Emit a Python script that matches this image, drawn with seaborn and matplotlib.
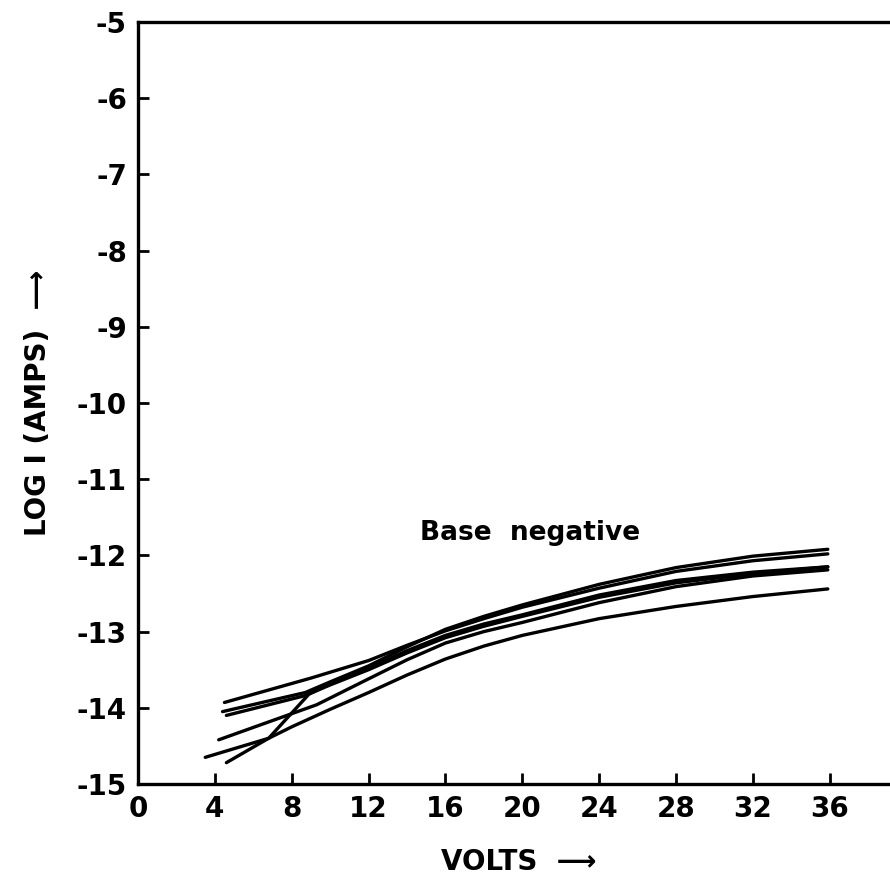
import matplotlib
matplotlib.use("Agg")
import pandas as pd
import seaborn as sns
from matplotlib import pyplot as plt

# curves (volts, log10 of current)
curve_a_x = [4.5, 9.0, 12, 14, 16, 18, 20, 24, 28, 32, 35.9]
curve_a_y = [-13.93, -13.61, -13.38, -13.18, -12.99, -12.83, -12.68, -12.43, -12.21, -12.07, -11.98]

curve_b1_x = [4.4, 8.7, 10, 12, 14, 16, 18, 20, 24, 28, 32, 35.9]
curve_b1_y = [-14.05, -13.80, -13.66, -13.45, -13.20, -12.97, -12.80, -12.65, -12.38, -12.16, -12.01, -11.92]

curve_b2_x = [4.6, 8.7, 10, 12, 14, 16, 18, 20, 24, 28, 32, 35.9]
curve_b2_y = [-14.10, -13.84, -13.70, -13.50, -13.28, -13.08, -12.93, -12.80, -12.55, -12.36, -12.24, -12.15]

curve_c_x = [4.2, 9.3, 12, 14, 16, 18, 20, 24, 28, 32, 35.9]
curve_c_y = [-14.42, -13.96, -13.62, -13.37, -13.15, -13.00, -12.88, -12.62, -12.41, -12.27, -12.19]

curve_d_x = [3.5, 6.8, 8, 10, 12, 14, 16, 18, 20, 24, 28, 32, 35.9]
curve_d_y = [-14.65, -14.40, -14.25, -14.02, -13.80, -13.57, -13.36, -13.19, -13.05, -12.83, -12.67, -12.54, -12.44]

curve_e_x = [4.6, 6.8, 8.9, 10, 12, 14, 16, 18, 20, 24, 28, 32, 35.9]
curve_e_y = [-14.72, -14.40, -13.82, -13.68, -13.48, -13.25, -13.05, -12.90, -12.78, -12.52, -12.33, -12.22, -12.15]

x_ticks = [0, 4, 8, 12, 16, 20, 24, 28, 32, 36]
y_ticks = [-15, -14, -13, -12, -11, -10, -9, -8, -7, -6, -5]

curves = {
    "a": (curve_a_x, curve_a_y),
    "b1": (curve_b1_x, curve_b1_y),
    "b2": (curve_b2_x, curve_b2_y),
    "c": (curve_c_x, curve_c_y),
    "d": (curve_d_x, curve_d_y),
    "e": (curve_e_x, curve_e_y),
}
df = pd.concat(
    [pd.DataFrame({"volts": xs, "log_i": ys, "curve": name}) for name, (xs, ys) in curves.items()],
    ignore_index=True,
)

sns.set_style("ticks")
plt.rcParams["font.family"] = ["DejaVu Sans"]
plt.rcParams["axes.unicode_minus"] = False
plt.rcParams["text.color"] = "black"
plt.rcParams["axes.labelcolor"] = "black"

fig = plt.figure(figsize=(8.9, 8.89), dpi=100)
ax = fig.add_axes([138 / 890, 1 - 784 / 889, 1 - 138 / 890 + 0.01, (784 - 22) / 889])

sns.lineplot(data=df, x="volts", y="log_i", units="curve", estimator=None,
             color="black", lw=2.4, sort=False, ax=ax, legend=False)

ax.set_xlim(0, 39.6)
ax.set_ylim(-15, -5)
ax.set_xticks(x_ticks)
ax.set_yticks(y_ticks)
ax.set_xticklabels([str(t) for t in x_ticks], fontsize=20, fontweight="bold")
ax.set_yticklabels([str(t) for t in y_ticks], fontsize=20, fontweight="bold")
ax.tick_params(direction="in", length=8, width=2, pad=8, colors="black")

for side in ["left", "bottom", "top"]:
    ax.spines[side].set_linewidth(2.4)
    ax.spines[side].set_color("black")
ax.spines["right"].set_visible(False)

ax.set_xlabel("VOLTS  \u27f6", fontsize=20, fontweight="bold", labelpad=18, color="black")
ax.set_ylabel("LOG I (AMPS)  \u27f6", fontsize=20, fontweight="bold", labelpad=18, color="black")

ax.text(20.4, -11.71, "Base  negative", fontsize=19, fontweight="bold",
        ha="center", va="center", color="black")

fig.savefig("out.png", dpi=100)
